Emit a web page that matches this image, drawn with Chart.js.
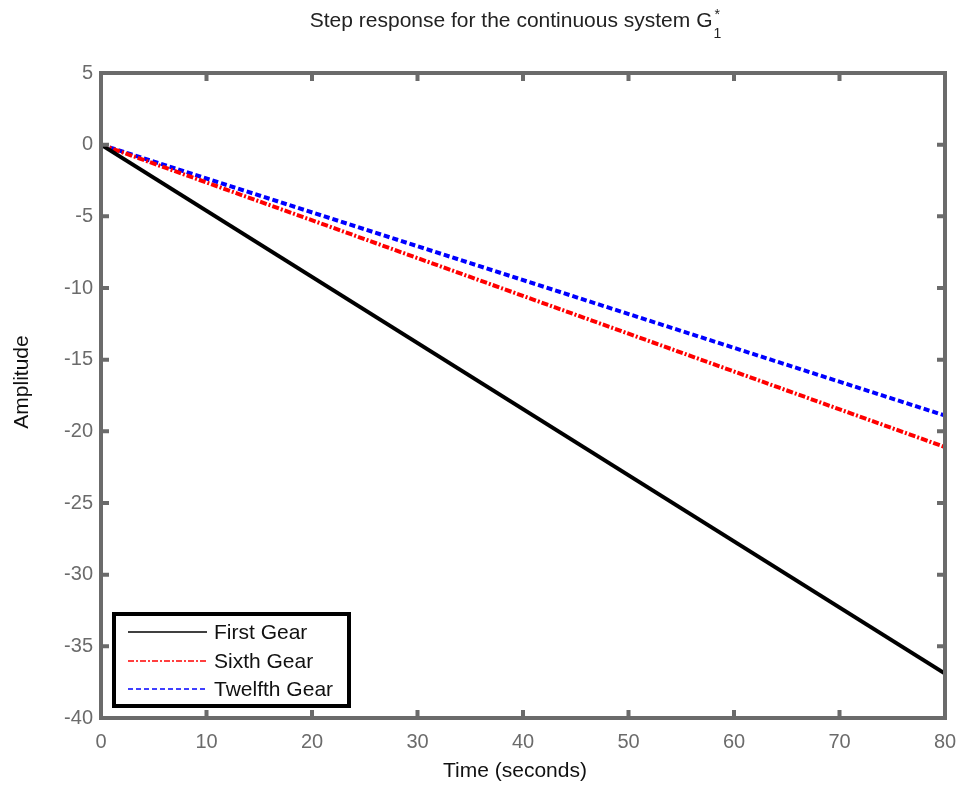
<!doctype html>
<html lang="en">
  <head>
    <meta charset="utf-8">
    <title>Step response</title>
    <script src="https://cdn.jsdelivr.net/npm/chart.js"></script>
    <style>
      html, body { margin: 0; padding: 0; background: #fff; }
      .wrap { position: relative; width: 960px; height: 785px; }
    </style>
  </head>
  <body>
    <div class="wrap">
      <canvas id="stepChart" width="960" height="785"></canvas>
    </div>
    <script>
      // data
      const timeS = [0, 80];
      const firstGear = [0, -36.9];
      const sixthGear = [0, -21.1];
      const twelfthGear = [0, -18.9];
      const seriesNames = ['First Gear', 'Sixth Gear', 'Twelfth Gear'];
      const seriesColors = ['#000000', '#ff0000', '#0000ff'];
      const seriesDash = [[], [7, 2, 2, 2], [6, 3]];
      const legendDash = [[], [6, 2, 2, 2], [5, 3]];
      const xTicks = [0, 10, 20, 30, 40, 50, 60, 70, 80];
      const yTicks = [5, 0, -5, -10, -15, -20, -25, -30, -35, -40];

      const FONT = '"Liberation Sans", Arial, sans-serif';
      const AXIS = '#6b6b6b';

      function pts(ys) {
        return timeS.map((t, i) => ({ x: t, y: ys[i] }));
      }

      // frame, inward ticks, title, axis labels and legend
      const matlabLook = {
        id: 'matlabLook',
        afterDraw(chart) {
          const ctx = chart.ctx;
          const a = chart.chartArea;
          const xs = chart.scales.x, ys = chart.scales.y;
          ctx.save();
          ctx.strokeStyle = AXIS;
          ctx.lineWidth = 4;
          ctx.strokeRect(a.left, a.top, a.right - a.left, a.bottom - a.top);
          ctx.beginPath();
          xTicks.forEach(v => {
            const px = xs.getPixelForValue(v);
            ctx.moveTo(px, a.bottom); ctx.lineTo(px, a.bottom - 8);
            ctx.moveTo(px, a.top); ctx.lineTo(px, a.top + 8);
          });
          yTicks.forEach(v => {
            const py = ys.getPixelForValue(v);
            ctx.moveTo(a.left, py); ctx.lineTo(a.left + 8, py);
            ctx.moveTo(a.right, py); ctx.lineTo(a.right - 8, py);
          });
          ctx.stroke();

          // title with G sub 1 sup *
          ctx.fillStyle = '#222';
          ctx.textBaseline = 'alphabetic';
          ctx.textAlign = 'left';
          const main = 'Step response for the continuous system G';
          ctx.font = '21px ' + FONT;
          const w = ctx.measureText(main).width;
          ctx.font = '14px ' + FONT;
          const ws = ctx.measureText('1').width;
          const left = 515 - (w + ws) / 2;
          ctx.font = '21px ' + FONT;
          ctx.fillText(main, left, 27);
          ctx.font = '14px ' + FONT;
          ctx.fillText('1', left + w + 1, 38);
          ctx.fillText('*', left + w + 2, 19);

          // axis labels
          ctx.font = '21px ' + FONT;
          ctx.fillStyle = '#111';
          ctx.textAlign = 'center';
          ctx.textBaseline = 'middle';
          ctx.fillText('Time (seconds)', 515, 771);
          ctx.save();
          ctx.translate(22, 382);
          ctx.rotate(-Math.PI / 2);
          ctx.fillText('Amplitude', 0, 0);
          ctx.restore();

          // legend box
          ctx.fillStyle = '#fff';
          ctx.fillRect(114, 614, 235, 92);
          ctx.strokeStyle = '#000';
          ctx.lineWidth = 4;
          ctx.strokeRect(114, 614, 235, 92);
          const rows = [632, 661, 689];
          for (let i = 0; i < seriesNames.length; i++) {
            ctx.beginPath();
            ctx.setLineDash(legendDash[i]);
            ctx.lineWidth = 1.5;
            ctx.strokeStyle = seriesColors[i];
            ctx.moveTo(128, rows[i]);
            ctx.lineTo(207, rows[i]);
            ctx.stroke();
            ctx.setLineDash([]);
            ctx.fillStyle = '#111';
            ctx.font = '21px ' + FONT;
            ctx.textAlign = 'left';
            ctx.textBaseline = 'middle';
            ctx.fillText(seriesNames[i], 214, rows[i] + 1);
          }
          ctx.restore();
        }
      };

      new Chart(document.getElementById('stepChart'), {
        type: 'line',
        data: {
          datasets: [
            { label: seriesNames[0], data: pts(firstGear), borderColor: seriesColors[0], borderWidth: 4, borderDash: seriesDash[0] },
            { label: seriesNames[1], data: pts(sixthGear), borderColor: seriesColors[1], borderWidth: 4, borderDash: seriesDash[1] },
            { label: seriesNames[2], data: pts(twelfthGear), borderColor: seriesColors[2], borderWidth: 4, borderDash: seriesDash[2] }
          ]
        },
        options: {
          responsive: false,
          animation: false,
          devicePixelRatio: 1,
          layout: { padding: { top: 73, right: 15, left: 0, bottom: 0 } },
          elements: { point: { radius: 0 }, line: { tension: 0 } },
          plugins: { legend: { display: false }, tooltip: { enabled: false } },
          scales: {
            x: {
              type: 'linear', min: 0, max: 80,
              grid: { display: false, drawTicks: false },
              border: { display: false },
              afterFit(s) { s.height = 67; s.paddingLeft = 0; s.paddingRight = 0; },
              afterBuildTicks(s) { s.ticks = xTicks.map(v => ({ value: v })); },
              ticks: { padding: 12, color: AXIS, font: { size: 20, family: FONT } }
            },
            y: {
              type: 'linear', min: -40, max: 5,
              grid: { display: false, drawTicks: false },
              border: { display: false },
              afterFit(s) { s.width = 101; s.paddingTop = 0; s.paddingBottom = 0; },
              afterBuildTicks(s) { s.ticks = yTicks.map(v => ({ value: v })); },
              ticks: { padding: 8, color: AXIS, font: { size: 20, family: FONT } }
            }
          }
        },
        plugins: [matlabLook]
      });
    </script>
  </body>
</html>
